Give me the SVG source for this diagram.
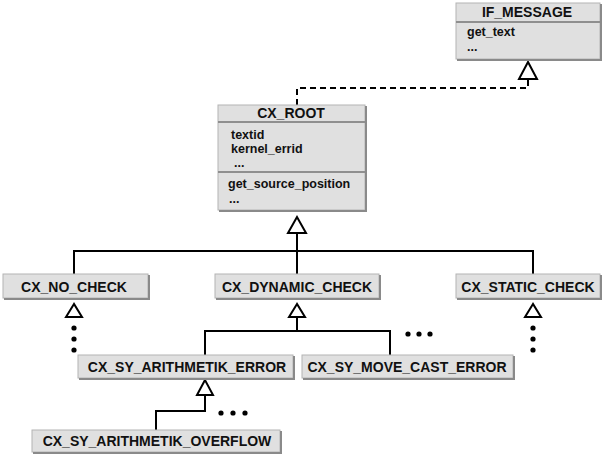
<svg xmlns="http://www.w3.org/2000/svg" width="604" height="455" viewBox="0 0 604 455">
<style>
.box{fill:#e0e0e0;stroke:#b4b4b4;stroke-width:1}
.sh{fill:none;stroke:#8a8a8a;stroke-width:2}
.sep{stroke:#8f8f8f;stroke-width:2}
.t{font-family:"Liberation Sans",Arial,sans-serif;font-weight:bold;font-size:14px;fill:#111;text-anchor:middle}
.a{font-family:"Liberation Sans",Arial,sans-serif;font-weight:bold;font-size:12.5px;fill:#111}
.ln{fill:none;stroke:#000;stroke-width:2}
.tri{fill:#fff;stroke:#000;stroke-width:2;stroke-linejoin:miter}
.dot{fill:#000}
</style>
<rect width="604" height="455" fill="#fff"/>
<g id="connectors">
<path class="ln" d="M297,105 V88 H528 V79" stroke-dasharray="6,4"/>
<polygon class="tri" points="528,62 519,79 537,79"/>
<path class="ln" d="M297,233 V274 M74,274 V251 H533 V274"/>
<polygon class="tri" points="297,217 288,233 306,233"/>
<polygon class="tri" points="74,304 66,317 82,317"/>
<circle class="dot" cx="74" cy="328" r="2.6"/><circle class="dot" cx="74" cy="339" r="2.6"/><circle class="dot" cx="74" cy="350" r="2.6"/>
<path class="ln" d="M297,317 V331 M205,355 V331 H390 V355"/>
<polygon class="tri" points="297,304 289,317 305,317"/>
<circle class="dot" cx="408" cy="334" r="2.6"/><circle class="dot" cx="419" cy="334" r="2.6"/><circle class="dot" cx="430" cy="334" r="2.6"/>
<polygon class="tri" points="533,304 525,317 541,317"/>
<circle class="dot" cx="533" cy="328" r="2.6"/><circle class="dot" cx="533" cy="339" r="2.6"/><circle class="dot" cx="533" cy="350" r="2.6"/>
<path class="ln" d="M205,395 V411 H156 V430"/>
<polygon class="tri" points="205,380 197,395 213,395"/>
<circle class="dot" cx="221" cy="413" r="2.6"/><circle class="dot" cx="233" cy="413" r="2.6"/><circle class="dot" cx="245" cy="413" r="2.6"/>
</g>
<g id="IF_MESSAGE">
<rect class="box" x="456" y="3" width="144" height="56"/>
<path class="sh" d="M457,60 H601 V4"/>
<line class="sep" x1="456" y1="22" x2="600" y2="22"/>
<text class="t" x="527" y="17">IF_MESSAGE</text>
<text class="a" x="467" y="36">get_text</text>
<text class="a" x="467" y="51">...</text>
</g>
<g id="CX_ROOT">
<rect class="box" x="218" y="105" width="147" height="105"/>
<path class="sh" d="M219,211 H366 V106"/>
<line class="sep" x1="218" y1="122" x2="365" y2="122"/>
<line class="sep" x1="218" y1="172" x2="365" y2="172"/>
<text class="t" x="291" y="118">CX_ROOT</text>
<text class="a" x="231" y="139">textid</text>
<text class="a" x="231" y="153">kernel_errid</text>
<text class="a" x="234" y="167">...</text>
<text class="a" x="228" y="188">get_source_position</text>
<text class="a" x="229" y="203">...</text>
</g>
<g id="CX_NO_CHECK">
<rect class="box" x="3" y="274" width="145" height="24"/>
<path class="sh" d="M4,299 H149 V275"/>
<text class="t" x="74" y="292">CX_NO_CHECK</text>
</g>
<g id="CX_DYNAMIC_CHECK">
<rect class="box" x="215" y="274" width="164" height="24"/>
<path class="sh" d="M216,299 H380 V275"/>
<text class="t" x="297" y="292">CX_DYNAMIC_CHECK</text>
</g>
<g id="CX_STATIC_CHECK">
<rect class="box" x="456" y="274" width="144" height="24"/>
<path class="sh" d="M457,299 H601 V275"/>
<text class="t" x="528" y="292">CX_STATIC_CHECK</text>
</g>
<g id="CX_SY_ARITHMETIK_ERROR">
<rect class="box" x="78" y="355" width="215" height="23"/>
<path class="sh" d="M79,379 H294 V356"/>
<text class="t" x="187" y="372">CX_SY_ARITHMETIK_ERROR</text>
</g>
<g id="CX_SY_MOVE_CAST_ERROR">
<rect class="box" x="302" y="355" width="211" height="23"/>
<path class="sh" d="M303,379 H514 V356"/>
<text class="t" x="407" y="372">CX_SY_MOVE_CAST_ERROR</text>
</g>
<g id="CX_SY_ARITHMETIK_OVERFLOW">
<rect class="box" x="32" y="430" width="248" height="22"/>
<path class="sh" d="M33,453 H281 V431"/>
<text class="t" x="157" y="446">CX_SY_ARITHMETIK_OVERFLOW</text>
</g>
</svg>
